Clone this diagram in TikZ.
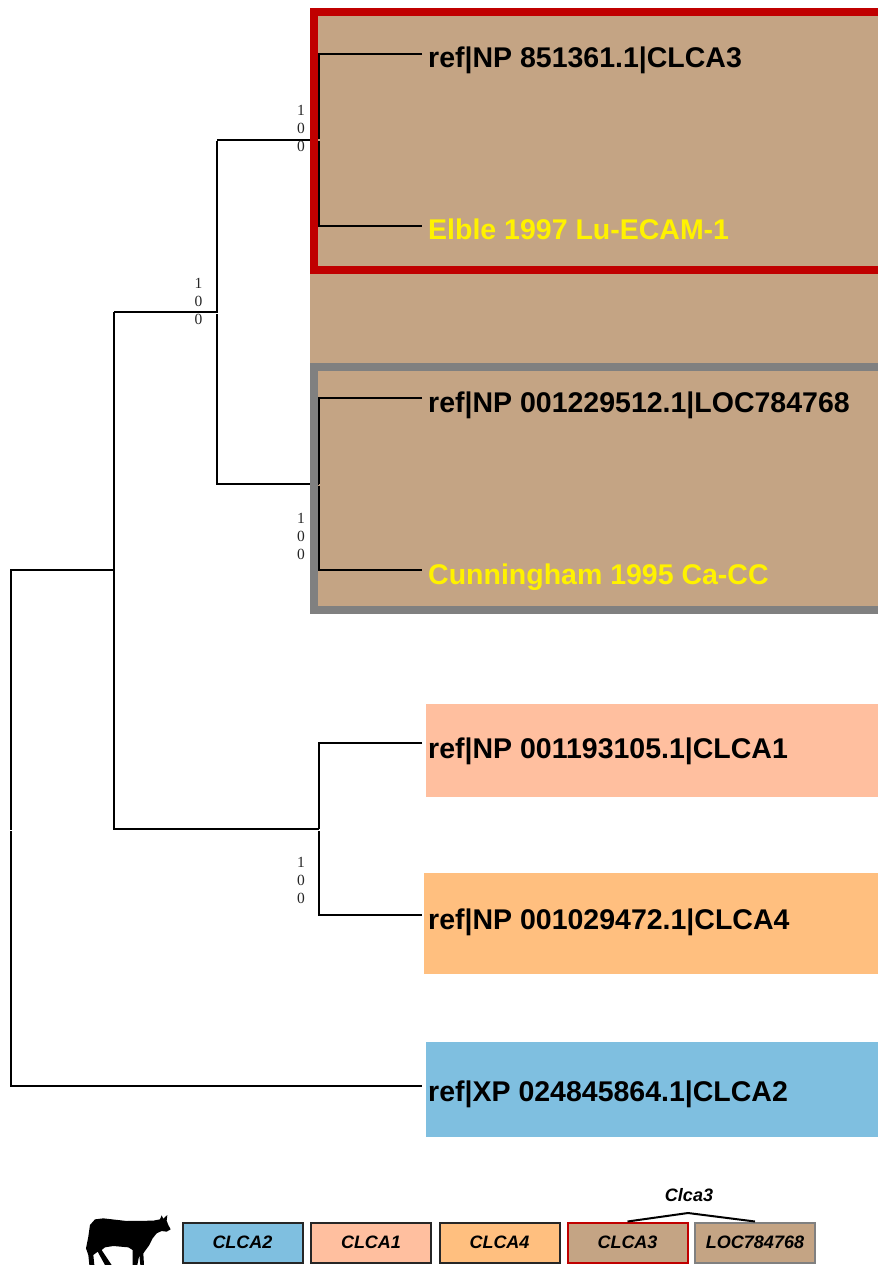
\documentclass[tikz,border=0pt]{standalone}
\usepackage{fontspec}
\setmainfont{Liberation Sans}
\newfontfamily\bootfont{Liberation Serif}
\definecolor{cbrown}{HTML}{C4A484}
\definecolor{cblue}{HTML}{7FBFE0}
\definecolor{csalmon}{HTML}{FFBF9F}
\definecolor{corange}{HTML}{FFBF7F}
\definecolor{cred}{HTML}{C00000}
\definecolor{cgrey}{HTML}{808080}
\tikzset{
  branch/.style={draw=black,line width=1.6pt,line cap=butt},
  leaf/.style={anchor=base west,inner sep=0pt,font=\fontsize{28.5}{30}\selectfont\bfseries,text=black},
  yleaf/.style={leaf,text=yellow},
  boot/.style={align=center,inner sep=0pt,font=\fontsize{15.5}{18}\selectfont\bootfont,text=black!85},
  legendbox/.style={minimum width=120pt,minimum height=40pt,inner sep=0pt,line width=2pt,
     font=\fontsize{18}{20}\selectfont\bfseries\itshape},
}
\begin{document}
\begin{tikzpicture}[x=1pt,y=-1pt]
\useasboundingbox (0,0) rectangle (878,1265);
% backgrounds
\fill[cbrown] (310,8) rectangle (878,614);
\fill[csalmon] (426,704) rectangle (878,797);
\fill[corange] (424,873) rectangle (878,974);
\fill[cblue] (426,1042) rectangle (878,1137);
% junctions
\coordinate (r0) at (11,570);
\coordinate (r1) at (11,1086);
\coordinate (a) at (114,570);
\coordinate (a0) at (114,312);
\coordinate (a1) at (114,829);
\coordinate (b0) at (217,312);
\coordinate (b1) at (217,140);
\coordinate (b2) at (217,484);
\coordinate (c1) at (319,140);
\coordinate (c2) at (319,484);
\coordinate (d0) at (319,829);
\coordinate (t1) at (422,54);
\coordinate (t2) at (422,226);
\coordinate (t3) at (422,398);
\coordinate (t4) at (422,570);
\coordinate (t5) at (422,743);
\coordinate (t6) at (422,915);
\coordinate (t7) at (422,1086);
\coordinate (s1) at (319,54);
\coordinate (s2) at (319,226);
\coordinate (s3) at (319,398);
\coordinate (s4) at (319,570);
\coordinate (s5) at (319,743);
\coordinate (s6) at (319,915);
% tree, left part
\draw[branch] ([xshift=-.8pt]r0) -- (a);
\draw[branch] (r0) -- ([yshift=-1pt]11,829);
\draw[branch] (11,831) -- (r1) -- (t7);
\draw[branch] (a0) -- (a1) -- (d0);
\draw[branch] (a0) -- ([xshift=.8pt]b0);
\draw[branch] (b1) -- (311,140);
\draw[branch] ([yshift=-.8pt]b1) -- (b0);
\draw[branch] (217,314) -- (b2) -- (c2);
% frames
\draw[cred,line width=8pt,miter limit=10] (878,12) -- (314,12) -- (314,270) -- (878,270);
\draw[cgrey,line width=8pt,miter limit=10] (878,367) -- (314,367) -- (314,610) -- (878,610);
% tree, right part
\draw[branch] (t1) -- (s1) -- (319,139.5);
\draw[branch] (319,141.5) -- (s2) -- (t2);
\draw[branch] (t3) -- (s3) -- (319,483.5);
\draw[branch] (319,485.5) -- (s4) -- (t4);
\draw[branch] (t5) -- (s5) -- (d0);
\draw[branch] (319,831) -- (s6) -- (t6);
% leaves
\node[leaf] (l1) at (428,68) {ref|NP 851361.1|CLCA3};
\node[yleaf] (l2) at (428,240) {Elble 1997 Lu-ECAM-1};
\node[leaf] (l3) at (428,412) {ref|NP 001229512.1|LOC784768};
\node[yleaf] (l4) at (428,584) {Cunningham 1995 Ca-CC};
\node[leaf] (l5) at (428,758) {ref|NP 001193105.1|CLCA1};
\node[leaf] (l6) at (428,929) {ref|NP 001029472.1|CLCA4};
\node[leaf] (l7) at (428,1101) {ref|XP 024845864.1|CLCA2};
% bootstrap labels
\node[boot] (n1) at (301,128.5) {1\\0\\0};
\node[boot] (n2) at (198.5,301.5) {1\\0\\0};
\node[boot] (n3) at (301,536.5) {1\\0\\0};
\node[boot] (n4) at (301,880.5) {1\\0\\0};
% legend
\node[legendbox,draw=black!85,fill=cblue] (k1) at (242.5,1242.5) {CLCA2};
\node[legendbox,draw=black!85,fill=csalmon] (k2) at (371,1242.5) {CLCA1};
\node[legendbox,draw=black!85,fill=corange] (k3) at (499.5,1242.5) {CLCA4};
\node[legendbox,draw=cred,fill=cbrown] (k4) at (627.5,1242.5) {CLCA3};
\node[legendbox,draw=cgrey,fill=cbrown] (k5) at (755,1242.5) {LOC784768};
\node[font=\fontsize{18}{20}\selectfont\bfseries\itshape,inner sep=0pt] (g) at (689,1195) {Clca3};
\coordinate (apex) at (688,1213);
\draw[line width=2pt] (k4.north) -- (apex) -- (k5.north);
% cow
\begin{scope}[shift={(60,1170)},x=.3333pt,y=-.3333pt]
\fill[black] (105,148) -- (130,145) -- (200,153) -- (280,152) -- (300,148) -- (305,136) -- (310,146) -- (322,135) -- (320,152) -- (325,165) -- (332,178) -- (320,185) -- (305,183) -- (290,190) -- (278,205) -- (268,225) -- (250,250) -- (252,285) -- (241,285) -- (238,255) -- (232,285) -- (218,285) -- (218,240) -- (205,232) -- (160,228) -- (135,232) -- (125,240) -- (155,285) -- (135,285) -- (113,245) -- (100,255) -- (103,285) -- (88,285) -- (85,255) -- (78,235) -- (85,200) -- (90,165) -- cycle;
\end{scope}
\end{tikzpicture}
\end{document}
